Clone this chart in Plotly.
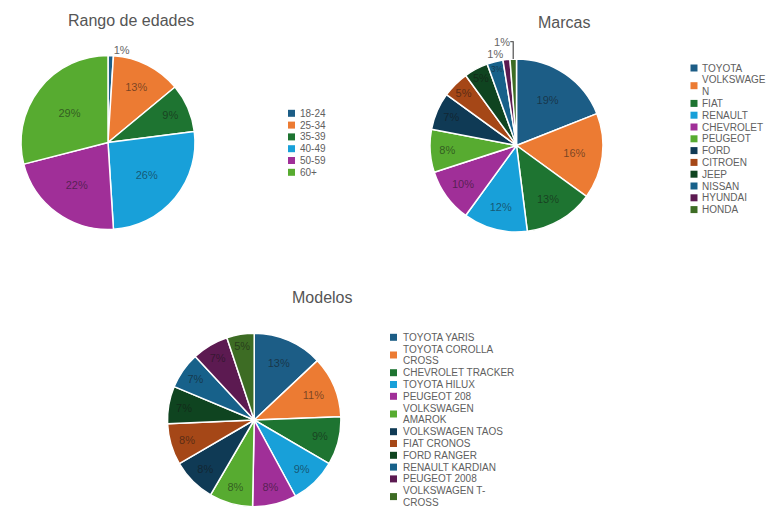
import plotly.graph_objects as go

# ---------------- data ----------------
edad_labels = ["18-24", "25-34", "35-39", "40-49", "50-59", "60+"]
edad_values = [1, 13, 9, 26, 22, 29]

marca_labels = ["TOYOTA", "VOLKSWAGEN", "FIAT", "RENAULT", "CHEVROLET", "PEUGEOT",
                "FORD", "CITROEN", "JEEP", "NISSAN", "HYUNDAI", "HONDA"]
marca_values = [19, 16, 13, 12, 10, 8, 7, 5, 4.5, 3, 1.3, 1.2]

modelo_labels = ["TOYOTA YARIS", "TOYOTA COROLLA CROSS", "CHEVROLET TRACKER", "TOYOTA HILUX",
                 "PEUGEOT 208", "VOLKSWAGEN AMAROK", "VOLKSWAGEN TAOS", "FIAT CRONOS",
                 "FORD RANGER", "RENAULT KARDIAN", "PEUGEOT 2008", "VOLKSWAGEN T-CROSS"]
modelo_values = [13, 11.4, 9, 8.7, 8.2, 8.1, 8.2, 7.7, 7, 6.8, 6.8, 5.1]

titles = ["Rango de edades", "Marcas", "Modelos"]

# ---------------- style ----------------
palette = ["#1c5d86", "#ec7b33", "#1e7431", "#18a0d9", "#a02f98", "#57ab30",
           "#0f3a55", "#a54717", "#0f4420", "#17618a", "#5c1a51", "#3d6c24"]
FONT = "Arial, Liberation Sans, sans-serif"
TEXT_DARK = "rgba(20,20,20,0.55)"
LEGEND_COLOR = "#606060"
TITLE_COLOR = "#555555"
LINE_H = 11.8
W, H = 780, 520

# legend wrapping as rendered in the reference
WRAP = {
    "VOLKSWAGEN": ["VOLKSWAGE", "N"],
    "TOYOTA COROLLA CROSS": ["TOYOTA COROLLA", "CROSS"],
    "VOLKSWAGEN AMAROK": ["VOLKSWAGEN", "AMAROK"],
    "VOLKSWAGEN T-CROSS": ["VOLKSWAGEN T-", "CROSS"],
}

# pie geometry in pixels: center x, center y (from top), radius
pies = [
    dict(labels=edad_labels, values=edad_values, cx=108, cy=142.5, r=87,
         title_xy=(131, 20), legend=(291.5, 298.5, 113.3),
         outside={0}),
    dict(labels=marca_labels, values=marca_values, cx=516.5, cy=145.5, r=86.5,
         title_xy=(564, 22), legend=(694, 700.5, 68),
         outside={10, 11}),
    dict(labels=modelo_labels, values=modelo_values, cx=254.2, cy=420, r=86.7,
         title_xy=(322, 297), legend=(393.5, 401.5, 337.3),
         outside=set()),
]

fig = go.Figure()

for i, p in enumerate(pies):
    n = len(p["labels"])
    fig.add_trace(go.Pie(
        labels=p["labels"], values=p["values"],
        sort=False, direction="clockwise", rotation=0,
        marker=dict(colors=palette[:n], line=dict(color="white", width=1.5)),
        texttemplate="%{percent:.0%}",
        textposition=["outside" if k in p["outside"] else "inside" for k in range(n)],
        insidetextorientation="horizontal",
        textfont=dict(family=FONT, size=11, color=TEXT_DARK),
        outsidetextfont=dict(family=FONT, size=11, color="#666666"),
        domain=dict(x=[(p["cx"] - p["r"]) / W, (p["cx"] + p["r"]) / W],
                    y=[(H - p["cy"] - p["r"]) / H, (H - p["cy"] + p["r"]) / H]),
        showlegend=False,
        hoverinfo="label+percent",
    ))

    # custom compact legend drawn on an overlay pixel axis
    sym_x, txt_x, top = p["legend"]
    line = 0
    mk_y, tx_y, tx_t = [], [], []
    for lab in p["labels"]:
        parts = WRAP.get(lab, [lab])
        ys = [top + (line + j) * LINE_H for j in range(len(parts))]
        mk_y.append(sum(ys) / len(ys))
        tx_y.extend(ys)
        tx_t.extend(parts)
        line += len(parts)
    fig.add_trace(go.Scatter(
        x=[sym_x] * n, y=mk_y, mode="markers",
        marker=dict(symbol="square", size=7, color=palette[:n]),
        hoverinfo="skip", showlegend=False, xaxis="x", yaxis="y",
    ))
    for tx, ty in zip(tx_t, tx_y):
        fig.add_annotation(x=txt_x, y=ty, xref="x", yref="y", text=tx,
                           showarrow=False, xanchor="left", yanchor="middle",
                           borderpad=0,
                           font=dict(family=FONT, size=10, color=LEGEND_COLOR))

    fig.add_annotation(x=p["title_xy"][0], y=p["title_xy"][1], xref="x", yref="y",
                       text=titles[i], showarrow=False, xanchor="center", yanchor="middle",
                       font=dict(family=FONT, size=16, color=TITLE_COLOR))

fig.update_layout(
    width=W, height=H,
    margin=dict(l=0, r=0, t=0, b=0),
    paper_bgcolor="white", plot_bgcolor="rgba(0,0,0,0)",
    xaxis=dict(range=[0, W], visible=False, fixedrange=True, domain=[0, 1]),
    yaxis=dict(range=[H, 0], visible=False, fixedrange=True, domain=[0, 1]),
    showlegend=False,
)

fig.write_html("out.html")
